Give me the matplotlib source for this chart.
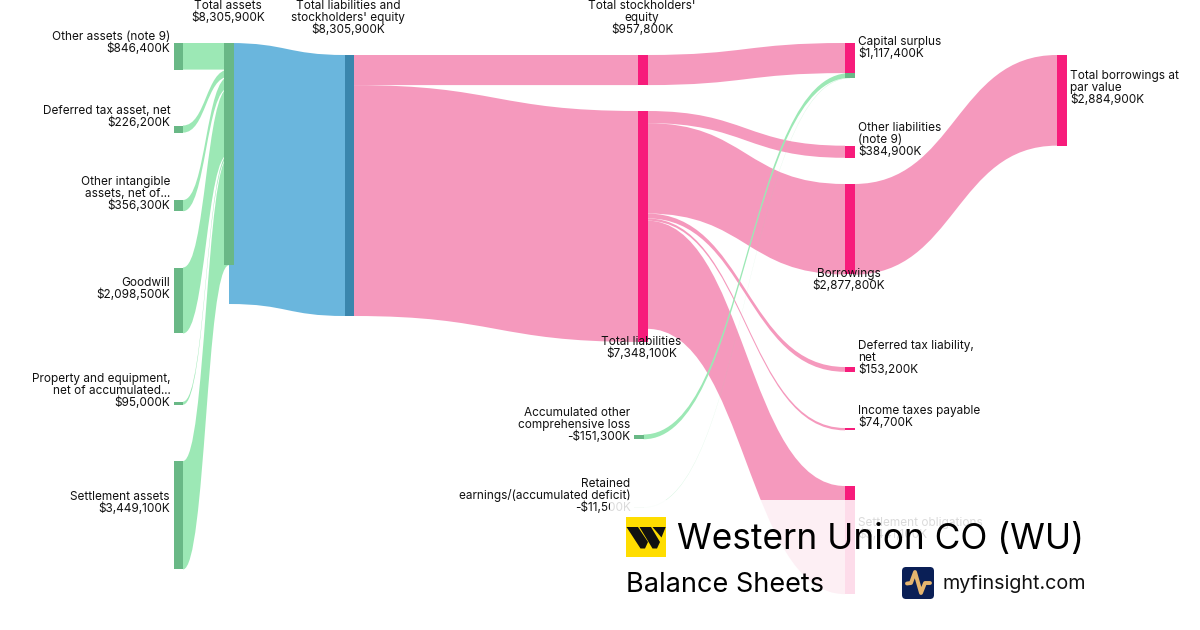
import matplotlib
matplotlib.use("Agg")
import matplotlib.pyplot as plt
from matplotlib.patches import PathPatch, Rectangle, FancyBboxPatch, Polygon
from matplotlib.path import Path

plt.rcParams["font.family"] = ["Inter", "DejaVu Sans"]

# values in $K
assetNames = ["Other assets (note 9)", "Deferred tax asset, net", "Other intangible\nassets, net of...",
              "Goodwill", "Property and equipment,\nnet of accumulated...", "Settlement assets"]
assetValues = [846400, 226200, 356300, 2098500, 95000, 3449100]
totalAssets = 8305900
totalEquity = 957800
totalLiabilities = 7348100
liabilityNames = ["Other liabilities\n(note 9)", "Borrowings", "Deferred tax liability,\nnet",
                  "Income taxes payable", "Settlement obligations"]
liabilityValues = [384900, 2877800, 153200, 74700, 3441100]
capitalSurplus = 1117400
equityNegNames = ["Accumulated other\ncomprehensive loss", "Retained\nearnings/(accumulated deficit)"]
equityNegValues = [151300, 11500]
totalBorrowings = 2884900

# layout, in pixels of the 1200x630 picture
PX = 261 / totalAssets
NODE_W = 9.5
assetTops = [43, 125.5, 200, 267.5, 401.7, 461]
liabTops = [145.7, 184, 367, 428, 486]
negTops = [434.5, 507.3]

GREEN, GREEN_NODE = "#9ce8b5", "#69b886"
BLUE, BLUE_NODE = "#6ab6dd", "#3a86ad"
PINK, PINK_NODE = "#f599bd", "#f71c7b"
TEXT = "#111111"


def money(v):
    # values are already thousands, printed with a K after them
    return f"${v:,}K"


def ribbon(ax, x0, y0, x1, y1, h, color, alpha=1.0, z=1):
    mx = (x0 + x1) / 2
    verts = [(x0, y0), (mx, y0), (mx, y1), (x1, y1),
             (x1, y1 + h), (mx, y1 + h), (mx, y0 + h), (x0, y0 + h), (x0, y0)]
    codes = [Path.MOVETO, Path.CURVE4, Path.CURVE4, Path.CURVE4,
             Path.LINETO, Path.CURVE4, Path.CURVE4, Path.CURVE4, Path.CLOSEPOLY]
    ax.add_patch(PathPatch(Path(verts, codes), fc=color, ec="none", alpha=alpha, zorder=z))


def node(ax, x, y, h, color, alpha=1.0, z=3):
    ax.add_patch(Rectangle((x, y), NODE_W, h, fc=color, ec="none", alpha=alpha, zorder=z))


def label(ax, x, y, s, ha="left"):
    # y is the centre of the first line, lines are 12 px apart
    for i, line in enumerate(s.split("\n")):
        ax.text(x, y + 1 + i * 12, line, ha=ha, va="center", fontsize=8.5, color=TEXT, zorder=6)


fig = plt.figure(figsize=(12, 6.3), dpi=100)
ax = fig.add_axes([0, 0, 1, 1])
ax.set_xlim(0, 1200)
ax.set_ylim(630, 0)
ax.axis("off")

# assets into total assets
stack = 43
for top, v in zip(assetTops, assetValues):
    h = v * PX
    ribbon(ax, 183, top, 229, stack, h, GREEN)
    node(ax, 173.5, top, h, GREEN_NODE)
    stack += h
node(ax, 224, 43, stack - 43, GREEN_NODE)

# total assets to liabilities and equity
ribbon(ax, 229, 43, 345, 55, totalAssets * PX, BLUE, z=0.5)
node(ax, 344.5, 55, totalAssets * PX, BLUE_NODE)

eqH = totalEquity * PX
liaH = totalLiabilities * PX
ribbon(ax, 354, 55, 638, 55, eqH, PINK)
ribbon(ax, 354, 55 + eqH, 638, 111, liaH, PINK)
node(ax, 638, 55, eqH, PINK_NODE)
node(ax, 638, 111, liaH, PINK_NODE)

# liabilities breakdown
stack = 111
for top, v in zip(liabTops, liabilityValues):
    h = v * PX
    ribbon(ax, 647, stack, 845, top, h, PINK)
    node(ax, 845, top, h, PINK_NODE)
    stack += h

# equity into capital surplus
ribbon(ax, 647, 55, 845, 43, eqH, PINK)
node(ax, 845, 43, eqH, PINK_NODE)
stack = 43 + eqH
negAlpha = [1.0, 0.7]
for top, v, a in zip(negTops, equityNegValues, negAlpha):
    h = v * PX
    ribbon(ax, 634 + NODE_W, top, 850, stack, h, GREEN, alpha=a, z=2)
    node(ax, 634, top, h, GREEN_NODE, alpha=a * a * a)
    node(ax, 845, stack, h, GREEN_NODE)
    stack += h

# borrowings to total borrowings
ribbon(ax, 854, 184, 1057, 55, totalBorrowings * PX, PINK)
node(ax, 1057, 55, totalBorrowings * PX, PINK_NODE)

# labels
label(ax, 170.5, 36, assetNames[0] + "\n" + money(assetValues[0]), "right")
label(ax, 170.5, 110, assetNames[1] + "\n" + money(assetValues[1]), "right")
label(ax, 170.5, 181, assetNames[2] + "\n" + money(assetValues[2]), "right")
label(ax, 170.5, 282, assetNames[3] + "\n" + money(assetValues[3]), "right")
label(ax, 170.5, 378, assetNames[4] + "\n" + money(assetValues[4]), "right")
label(ax, 170, 496, assetNames[5] + "\n" + money(assetValues[5]), "right")
label(ax, 228, 5, "Total assets\n" + money(totalAssets), "center")
label(ax, 348, 5, "Total liabilities and\nstockholders' equity\n" + money(totalAssets), "center")
label(ax, 642, 5, "Total stockholders'\nequity\n" + money(totalEquity), "center")
label(ax, 641.5, 341, "Total liabilities\n" + money(totalLiabilities), "center")
label(ax, 630.5, 412, equityNegNames[0] + "\n-" + money(equityNegValues[0]), "right")
label(ax, 630.5, 483, equityNegNames[1] + "\n-" + money(equityNegValues[1]), "right")
label(ax, 858, 41, "Capital surplus\n" + money(capitalSurplus))
label(ax, 858, 127, liabilityNames[0] + "\n" + money(liabilityValues[0]))
label(ax, 849, 273, liabilityNames[1] + "\n" + money(liabilityValues[1]), "center")
label(ax, 858, 345, liabilityNames[2] + "\n" + money(liabilityValues[2]))
label(ax, 858, 410, liabilityNames[3] + "\n" + money(liabilityValues[3]))
label(ax, 858, 522, liabilityNames[4] + "\n" + money(liabilityValues[4]))
label(ax, 1070, 75, "Total borrowings at\npar value\n" + money(totalBorrowings))

# white panel under the branding
ax.add_patch(Rectangle((610, 500), 590, 130, fc="white", ec="none", alpha=0.85, zorder=7))

# Western Union logo
ax.add_patch(Rectangle((626, 517), 40, 40, fc="#ffdd00", ec="none", zorder=8))
for pts in ([(626.5, 527), (638, 527), (648, 542), (645, 548.5), (640.5, 548.5)],
            [(639.5, 527), (651, 527), (660, 542), (657, 548.5), (652.5, 548.5)],
            [(652.5, 527), (665.7, 527), (661.5, 537.5)]):
    ax.add_patch(Polygon(pts, closed=True, fc="#111111", ec="none", joinstyle="round", zorder=9))

ax.text(677, 539, "Western Union CO (WU)", fontsize=25.4, color="#000000", va="center", ha="left", zorder=9)
ax.text(626.5, 585, "Balance Sheets", fontsize=19.5, color="#000000", va="center", ha="left", zorder=9)

# myfinsight logo
ax.add_patch(FancyBboxPatch((905, 570), 26, 26, boxstyle="round,pad=3,rounding_size=4",
                            fc="#0a1f56", ec="none", zorder=8))
ax.plot([907, 911, 915, 921, 925, 930], [583.5, 583, 572, 593, 583, 583], color="#e5b56e",
        lw=2.8, solid_joinstyle="round", solid_capstyle="round", zorder=9)
ax.text(942, 584, "myfinsight.com", fontsize=14.2, color="#111111", va="center", ha="left", zorder=9)

fig.savefig("out.png", dpi=100)
